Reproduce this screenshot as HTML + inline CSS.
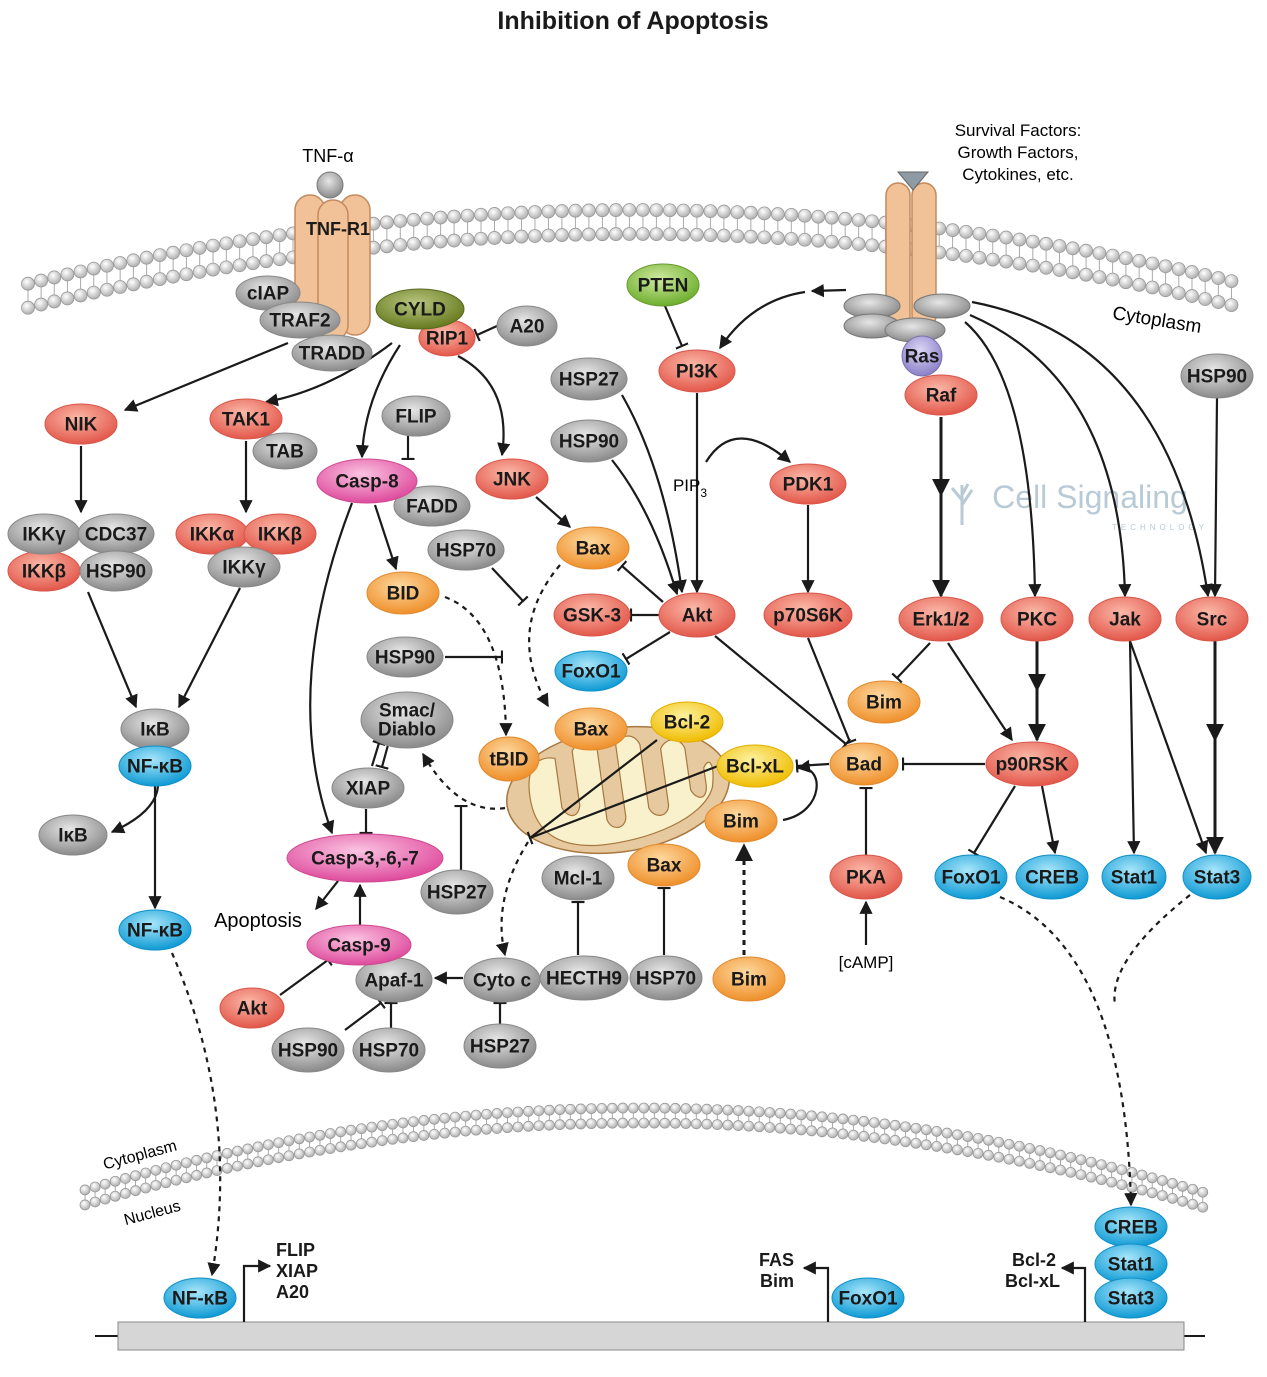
<!DOCTYPE html>
<html><head><meta charset="utf-8"><style>
body{margin:0;background:#fff}
svg text{font-family:"Liberation Sans",Arial,sans-serif}
.n{font-weight:bold;font-size:19px;fill:#1a1a1a;text-anchor:middle;dominant-baseline:central}
.e{fill:none;stroke:#1a1a1a;stroke-width:2.2}
.d{stroke-dasharray:5 5}
</style></head><body>
<svg id="s" width="1267" height="1372" viewBox="0 0 1267 1372" xmlns="http://www.w3.org/2000/svg">
<defs>
<radialGradient id="gr" cx="45%" cy="35%" r="65%"><stop offset="0" stop-color="#fbb8a8"/><stop offset="1" stop-color="#e2574a"/></radialGradient>
<radialGradient id="gg" cx="45%" cy="35%" r="65%"><stop offset="0" stop-color="#e6e6e6"/><stop offset="1" stop-color="#8a8a8a"/></radialGradient>
<radialGradient id="go" cx="45%" cy="35%" r="65%"><stop offset="0" stop-color="#fdd9a0"/><stop offset="1" stop-color="#ef8f2a"/></radialGradient>
<radialGradient id="gb" cx="45%" cy="35%" r="65%"><stop offset="0" stop-color="#a8e6fa"/><stop offset="1" stop-color="#0e9ad4"/></radialGradient>
<radialGradient id="gp" cx="45%" cy="35%" r="65%"><stop offset="0" stop-color="#fbc4e2"/><stop offset="1" stop-color="#de4a9c"/></radialGradient>
<radialGradient id="gy" cx="45%" cy="35%" r="65%"><stop offset="0" stop-color="#fdf2a0"/><stop offset="1" stop-color="#f0bc00"/></radialGradient>
<radialGradient id="ggr" cx="45%" cy="35%" r="65%"><stop offset="0" stop-color="#d0eaa0"/><stop offset="1" stop-color="#6cae2c"/></radialGradient>
<radialGradient id="gol" cx="45%" cy="35%" r="65%"><stop offset="0" stop-color="#b8c680"/><stop offset="1" stop-color="#667a1e"/></radialGradient>
<radialGradient id="gpu" cx="45%" cy="35%" r="65%"><stop offset="0" stop-color="#dcd6f4"/><stop offset="1" stop-color="#8a80c8"/></radialGradient>
<radialGradient id="gbd" cx="40%" cy="35%" r="65%"><stop offset="0" stop-color="#ffffff"/><stop offset="1" stop-color="#b0b0b0"/></radialGradient>
<marker id="a" viewBox="0 0 10 10" refX="9" refY="5" markerWidth="6" markerHeight="6" orient="auto-start-reverse" markerUnits="strokeWidth"><path d="M0,0 L10,5 L0,10 z" fill="#1a1a1a"/></marker>
<marker id="b" viewBox="0 0 4 12" refX="3" refY="6" markerWidth="2" markerHeight="6" orient="auto" markerUnits="strokeWidth"><rect x="2" y="0" width="2" height="12" fill="#1a1a1a"/></marker>
</defs>
<g id="mem"></g>

<text x="633" y="29" font-size="25" font-weight="bold" text-anchor="middle" fill="#1a1a1a">Inhibition of Apoptosis</text>
<text x="328" y="162" font-size="18" text-anchor="middle">TNF-α</text>
<text x="1018" y="136" font-size="17" text-anchor="middle">Survival Factors:</text>
<text x="1018" y="158" font-size="17" text-anchor="middle">Growth Factors,</text>
<text x="1018" y="180" font-size="17" text-anchor="middle">Cytokines, etc.</text>
<text x="1157" y="326" font-size="19" text-anchor="middle" transform="rotate(9 1157 320)">Cytoplasm</text>
<text x="140" y="1160" font-size="16" text-anchor="middle" transform="rotate(-15 140 1155)">Cytoplasm</text>
<text x="152" y="1218" font-size="16" text-anchor="middle" transform="rotate(-15 152 1212)">Nucleus</text>
<text x="1090" y="508" font-size="32" font-family="Liberation Serif" fill="#b8cad6" text-anchor="middle">Cell Signaling</text>
<text x="1160" y="530" font-size="8" fill="#b8cad6" text-anchor="middle" letter-spacing="4">TECHNOLOGY</text>
<path d="M962,525 L962,485 M962,500 L952,488 M962,505 L972,490 M962,495 L968,484" stroke="#b8cad6" stroke-width="3" fill="none"/>

<circle cx="330" cy="185" r="13" fill="url(#gg)" stroke="#777"/>
<g fill="#f1c197" stroke="#c48a5c" stroke-width="1.5">
<rect x="295" y="195" width="30" height="140" rx="15"/>
<rect x="340" y="195" width="30" height="140" rx="15"/>
<rect x="318" y="200" width="30" height="140" rx="15"/>
<rect x="886" y="183" width="24" height="145" rx="12"/>
<rect x="912" y="183" width="24" height="145" rx="12"/>
</g>
<text x="338" y="235" font-size="18" font-weight="bold" text-anchor="middle" fill="#1a1a1a">TNF-R1</text>
<path d="M898,172 L928,172 L913,190 z" fill="#8e9aa4" stroke="#666"/>
<g fill="url(#gg)" stroke="#777">
<ellipse cx="872" cy="306" rx="28" ry="12"/><ellipse cx="942" cy="306" rx="28" ry="12"/>
<ellipse cx="872" cy="326" rx="28" ry="12"/><ellipse cx="915" cy="330" rx="30" ry="12"/>
</g>

<g transform="rotate(-8 618 790)">
<ellipse cx="618" cy="790" rx="112" ry="62" fill="#e6c99f" stroke="#a8773f" stroke-width="1.5"/>
<path d="M530,790 C528,752 545,745 560,750 L560,800 C565,812 575,812 578,800 L578,745 C585,735 600,735 603,748 L603,818 C606,830 620,830 622,818 L622,745 C628,735 642,735 646,748 L646,812 C650,824 664,824 666,812 L666,755 C672,745 686,745 690,758 L690,800 C695,812 705,812 706,798 L706,780 C712,770 718,775 712,800 C700,830 640,845 590,842 C550,838 532,820 530,790 z" fill="#f8f1cc" stroke="#a8773f" stroke-width="1.2"/>
</g>

<g class="e" id="edges">
<path marker-end="url(#a)" d="M288,343 L125,410"/>
<path marker-end="url(#a)" d="M392,343 Q330,390 266,402"/>
<path marker-end="url(#a)" d="M400,345 Q364,400 362,457"/>
<path marker-end="url(#a)" d="M458,356 Q512,385 502,455"/>
<path marker-end="url(#b)" d="M497,326 L477,335"/>
<path marker-end="url(#a)" d="M81,446 L81,512"/>
<path marker-end="url(#a)" d="M246,441 L246,512"/>
<path marker-end="url(#b)" d="M408,436 L408,459"/>
<path marker-end="url(#a)" d="M375,505 L396,569"/>
<path marker-end="url(#a)" d="M352,503 Q280,690 332,833"/>
<path marker-end="url(#a)" d="M536,497 L570,527"/>
<path marker-end="url(#a)" d="M88,592 L136,707"/>
<path marker-end="url(#a)" d="M240,588 L179,707"/>
<path marker-end="url(#a)" d="M158,786 Q156,812 112,832"/>
<path marker-end="url(#a)" d="M155,786 L155,908"/>
<path class="d" marker-end="url(#a)" d="M172,953 Q240,1110 212,1275"/>
<path class="d" marker-end="url(#a)" d="M560,565 Q505,630 548,706"/>
<path marker-end="url(#b)" d="M492,568 L523,601"/>
<path class="d" marker-end="url(#a)" d="M445,597 Q505,620 506,735"/>
<path marker-end="url(#b)" d="M445,657 L502,657"/>
<path marker-end="url(#b)" d="M663,602 L622,566"/>
<path marker-end="url(#b)" d="M659,615 L631,615"/>
<path marker-end="url(#b)" d="M670,632 L626,659"/>
<path marker-end="url(#a)" d="M622,395 Q665,470 682,592"/>
<path marker-end="url(#a)" d="M612,460 Q652,510 677,594"/>
<path marker-end="url(#b)" d="M665,306 L682,346"/>
<path marker-end="url(#a)" d="M846,290 L812,291"/>
<path marker-end="url(#a)" d="M805,292 Q752,300 720,348"/>
<path marker-end="url(#a)" d="M697,393 L697,592"/>
<path marker-end="url(#a)" d="M706,462 Q735,415 790,462"/>
<path marker-end="url(#a)" d="M808,505 L808,592"/>
<path marker-end="url(#b)" d="M808,638 L850,742"/>
<path marker-end="url(#b)" d="M715,636 L846,744"/>
<path marker-end="url(#b)" d="M985,764 L903,764"/>
<path marker-end="url(#b)" d="M866,855 L866,788"/>
<path marker-end="url(#a)" d="M866,945 L866,902"/>
<path marker-end="url(#b)" d="M829,764 L797,766"/>
<path marker-end="url(#a)" d="M783,820 C825,812 825,764 798,768"/>
<path d="M657,740 L530,838"/>
<path marker-end="url(#b)" d="M718,766 L530,838"/>
<path class="d" marker-end="url(#a)" d="M505,808 Q458,815 423,754"/>
<path marker-end="url(#b)" d="M461,870 L461,806"/>
<path marker-end="url(#b)" d="M372,766 L379,743"/>
<path marker-end="url(#b)" d="M388,745 L382,767"/>
<path marker-end="url(#b)" d="M366,809 L366,833"/>
<path class="d" marker-end="url(#a)" d="M528,842 Q492,900 505,955"/>
<path marker-end="url(#b)" d="M578,955 L578,902"/>
<path marker-end="url(#b)" d="M664,955 L664,888"/>
<path class="d" marker-end="url(#a)" d="M744,955 L744,845" stroke-width="3"/>
<path marker-end="url(#a)" d="M463,978 L435,978"/>
<path marker-end="url(#a)" d="M360,925 L360,885"/>
<path marker-end="url(#a)" d="M338,881 L316,909"/>
<path marker-end="url(#b)" d="M280,995 L328,960"/>
<path marker-end="url(#b)" d="M345,1030 L381,1003"/>
<path marker-end="url(#b)" d="M391,1028 L391,1003"/>
<path marker-end="url(#b)" d="M500,1024 L500,1003"/>
<path marker-mid="url(#a)" marker-end="url(#a)" d="M941,417 L941,495 L941,596" stroke-width="3"/>
<path marker-end="url(#a)" d="M965,322 Q1032,380 1035,596"/>
<path marker-end="url(#a)" d="M970,315 Q1120,380 1125,596"/>
<path marker-end="url(#a)" d="M972,302 Q1170,340 1208,596"/>
<path marker-end="url(#a)" d="M1217,398 L1215,596"/>
<path marker-end="url(#b)" d="M930,643 L897,678"/>
<path marker-end="url(#a)" d="M948,643 L1012,740"/>
<path marker-mid="url(#a)" marker-end="url(#a)" d="M1037,641 L1037,690 L1037,740" stroke-width="3"/>
<path marker-end="url(#b)" d="M1015,786 L974,853"/>
<path marker-end="url(#a)" d="M1042,786 L1055,853"/>
<path marker-end="url(#a)" d="M1130,641 L1134,853"/>
<path marker-end="url(#a)" d="M1130,641 L1206,853"/>
<path marker-mid="url(#a)" marker-end="url(#a)" d="M1215,641 L1215,740 L1215,853" stroke-width="3"/>
<path class="d" marker-end="url(#a)" d="M1000,897 Q1125,950 1131,1205"/>
<path class="d" d="M1190,895 Q1108,960 1115,1005"/>
</g>

<line x1="95" y1="1336" x2="1205" y2="1336" stroke="#1a1a1a" stroke-width="2"/>
<rect x="118" y="1322" width="1066" height="28" fill="#d6d6d6" stroke="#888"/>
<g class="e">
<path marker-end="url(#a)" d="M244,1322 L244,1266 L270,1266"/>
<path marker-end="url(#a)" d="M828,1322 L828,1268 L804,1268"/>
<path marker-end="url(#a)" d="M1085,1322 L1085,1268 L1062,1268"/>
</g>
<g font-size="18" font-weight="bold" fill="#1a1a1a">
<text x="276" y="1256">FLIP</text><text x="276" y="1277">XIAP</text><text x="276" y="1298">A20</text>
<text x="794" y="1266" text-anchor="end">FAS</text><text x="794" y="1287" text-anchor="end">Bim</text>
<text x="1056" y="1266" text-anchor="end">Bcl-2</text><text x="1060" y="1287" text-anchor="end">Bcl-xL</text>
</g>
<text x="258" y="927" font-size="20" text-anchor="middle">Apoptosis</text>
<text x="866" y="968" font-size="17" text-anchor="middle">[cAMP]</text>
<text x="690" y="491" font-size="17" text-anchor="middle">PIP<tspan font-size="12" dy="6">3</tspan></text>

<g id="nodes"></g>
</svg>
<script>
var NS="http://www.w3.org/2000/svg";
var mem=document.getElementById('mem');
function el(t,a,p){var e=document.createElementNS(NS,t);for(var k in a)e.setAttribute(k,a[k]);(p||mem).appendChild(e);return e;}
function beads(x0,x1,f,off,r,step){
  var x=x0;
  while(x<=x1){
    var y=f(x);
    el('line',{x1:x,y1:y+r,x2:x,y2:y+off-r,stroke:'#aaa','stroke-width':1});
    el('circle',{cx:x,cy:y,r:r,fill:'url(#gbd)',stroke:'#999','stroke-width':0.8});
    el('circle',{cx:x,cy:y+off,r:r,fill:'url(#gbd)',stroke:'#999','stroke-width':0.8});
    var dy=(f(x+1)-f(x));x+=step/Math.sqrt(1+dy*dy);
  }
}
beads(28,1240,function(x){return 210+0.0002*(x-635)*(x-635);},24,6.5,13.5);
beads(85,1205,function(x){return 1108+0.000266*(x-640)*(x-640);},15,5,10.5);
var N=[
['r','RIP1',447,338,28,18],['r','NIK',81,424,36,20],['r','TAK1',246,419,36,20],
['r','IKKα',212,534,36,20],['r','IKKβ',280,534,36,20],['r','IKKβ',44,571,36,20],
['r','JNK',512,479,36,20],['r','PI3K',697,371,38,21],['r','PDK1',808,484,38,20],
['r','Raf',941,395,36,20],['r','Akt',697,615,38,22],['r','GSK-3',592,615,38,21],
['r','p70S6K',808,615,44,22],['r','Erk1/2',941,619,42,22],['r','PKC',1037,619,36,22],
['r','Jak',1125,619,36,22],['r','Src',1212,619,36,22],['r','p90RSK',1032,764,46,22],
['r','PKA',866,877,36,22],['r','Akt',252,1008,32,20],
['g','cIAP',268,293,32,17],['g','TRAF2',300,320,40,18],['g','TRADD',332,353,40,18],
['g','A20',527,326,30,20],['g','FLIP',416,416,34,20],['g','TAB',285,451,32,18],
['g','FADD',432,506,38,20],['g','HSP27',589,379,38,21],['g','HSP90',589,441,38,21],
['g','HSP70',466,550,38,20],['g','HSP90',405,657,38,20],
['g','IKKγ',44,534,36,20],['g','CDC37',116,534,38,20],['g','HSP90',116,571,36,20],
['g','IKKγ',244,567,36,20],['g','IκB',155,729,34,20],['g','IκB',73,835,34,20],
['g','XIAP',368,788,36,20],['g','HSP27',457,892,36,22],
['g','Mcl-1',578,878,36,22],['g','Apaf-1',394,980,38,22],['g','Cyto c',502,980,38,22],
['g','HECTH9',584,978,44,22],['g','HSP70',666,978,36,22],['g','HSP90',308,1050,36,22],
['g','HSP70',389,1050,36,22],['g','HSP27',500,1046,36,22],['g','HSP90',1217,376,36,22],
['o','Bax',593,548,36,21],['o','BID',403,593,36,21],['o','Bax',591,729,36,21],
['o','tBID',509,759,30,22],['o','Bim',741,821,36,21],['o','Bax',664,865,36,21],
['o','Bim',749,979,36,22],['o','Bim',884,702,36,21],['o','Bad',864,764,34,21],
['y','Bcl-2',687,722,36,20],['y','Bcl-xL',755,766,38,21],
['b','NF-κB',155,766,36,20],['b','NF-κB',155,930,36,20],['b','FoxO1',591,671,36,20],
['b','FoxO1',971,877,36,22],['b','CREB',1052,877,36,22],['b','Stat1',1134,877,32,22],
['b','Stat3',1217,877,34,22],['b','CREB',1131,1227,36,20],['b','Stat1',1131,1264,36,20],
['b','Stat3',1131,1298,36,20],['b','NF-κB',200,1298,36,20],['b','FoxO1',868,1298,36,20],
['p','Casp-8',367,481,50,22],['p','Casp-3,-6,-7',365,858,78,24],['p','Casp-9',359,945,52,20],
['gr','PTEN',663,285,36,21],['ol','CYLD',420,309,44,20],['pu','Ras',922,356,20,20]
];
var F={r:'gr',g:'gg',o:'go',b:'gb',p:'gp',y:'gy',gr:'ggr',ol:'gol',pu:'gpu'};
var S={r:'#d8564a',g:'#888',o:'#e08a30',b:'#1090c8',p:'#d04a90',y:'#e0b000',gr:'#6a9a30',ol:'#5a6a20',pu:'#7a70b0'};
var G=document.getElementById('nodes');
N.forEach(function(n){
  el('ellipse',{cx:n[2],cy:n[3],rx:n[4],ry:n[5],fill:'url(#'+F[n[0]]+')',stroke:S[n[0]],'stroke-width':1},G);
  var t=el('text',{x:n[2],y:n[3]+1,'class':'n'},G);t.textContent=n[1];
  if(n[0]=='pu')t.setAttribute('font-size','16');
});
el('ellipse',{cx:407,cy:720,rx:46,ry:28,fill:'url(#gg)',stroke:'#888'},G);
var t1=el('text',{x:407,y:711,'class':'n'},G);t1.textContent='Smac/';
var t2=el('text',{x:407,y:730,'class':'n'},G);t2.textContent='Diablo';
</script>
</body></html>
